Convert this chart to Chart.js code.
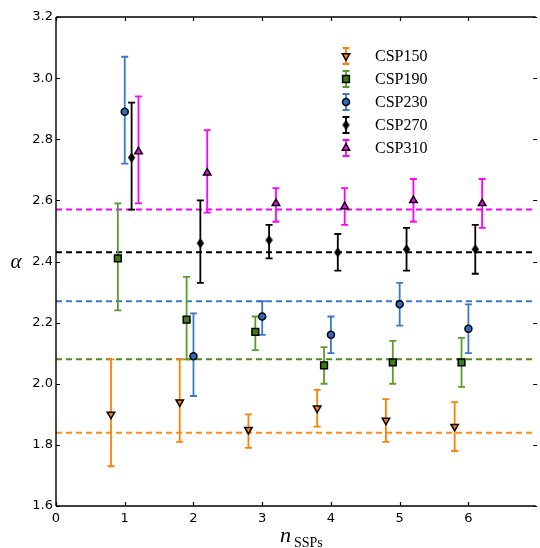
<!DOCTYPE html>
<html>
<head>
<meta charset="utf-8">
<script src="https://cdn.jsdelivr.net/npm/chart.js@4.4.1/dist/chart.umd.min.js"></script>
<style>
  html, body { margin: 0; padding: 0; background: #ffffff; }
  #wrap { width: 540px; height: 548px; position: relative; }
</style>
</head>
<body>
<div id="wrap"><canvas id="c" width="540" height="548"></canvas></div>
<script>
// ---- data ----
const nSSPs = [1, 2, 3, 4, 5, 6];
const seriesNames = ['CSP150', 'CSP190', 'CSP230', 'CSP270', 'CSP310'];

const csp150 = [1.90, 1.94, 1.85, 1.92, 1.88, 1.86];
const csp150Lo = [1.73, 1.81, 1.79, 1.86, 1.81, 1.78];
const csp150Hi = [2.08, 2.08, 1.90, 1.98, 1.95, 1.94];

const csp190 = [2.41, 2.21, 2.17, 2.06, 2.07, 2.07];
const csp190Lo = [2.24, 2.08, 2.11, 2.00, 2.00, 1.99];
const csp190Hi = [2.59, 2.35, 2.22, 2.12, 2.14, 2.15];

const csp230 = [2.89, 2.09, 2.22, 2.16, 2.26, 2.18];
const csp230Lo = [2.72, 1.96, 2.16, 2.10, 2.19, 2.10];
const csp230Hi = [3.07, 2.23, 2.27, 2.22, 2.33, 2.26];

const csp270 = [2.74, 2.46, 2.47, 2.43, 2.44, 2.44];
const csp270Lo = [2.57, 2.33, 2.41, 2.37, 2.37, 2.36];
const csp270Hi = [2.92, 2.60, 2.52, 2.49, 2.51, 2.52];

const csp310 = [2.76, 2.69, 2.59, 2.58, 2.60, 2.59];
const csp310Lo = [2.59, 2.56, 2.53, 2.52, 2.53, 2.51];
const csp310Hi = [2.94, 2.83, 2.64, 2.64, 2.67, 2.67];

// horizontal reference levels (dashed lines)
const meanLevels = [1.84, 2.08, 2.27, 2.43, 2.57];

const xTicks = [0, 1, 2, 3, 4, 5, 6];
const yTicks = [1.6, 1.8, 2.0, 2.2, 2.4, 2.6, 2.8, 3.0, 3.2];

// ---- styling ----
const values = [csp150, csp190, csp230, csp270, csp310];
const lows = [csp150Lo, csp190Lo, csp230Lo, csp270Lo, csp310Lo];
const highs = [csp150Hi, csp190Hi, csp230Hi, csp270Hi, csp310Hi];
const xOffsets = [-0.2, -0.1, 0, 0.1, 0.2];
const barColors = ['#ff8000', '#5b9a2c', '#3a78c8', '#000000', '#ff00ff'];
const lineColors = ['#ff8c1a', '#4f8a22', '#3a78c8', '#000000', '#ff00ff'];
const markerFill = ['#ff8000', '#3d7a1a', '#2f6bbf', '#000000', '#ff00ff'];

// thin diamond marker as a small canvas image
function thinDiamond() {
  const c = document.createElement('canvas');
  c.width = 9; c.height = 11;
  const g = c.getContext('2d');
  g.beginPath();
  g.moveTo(4.5, 0.5); g.lineTo(8.2, 5.5); g.lineTo(4.5, 10.5); g.lineTo(0.8, 5.5);
  g.closePath();
  g.fillStyle = '#000'; g.fill();
  return c;
}
const diamondImg = thinDiamond();
const markerStyle = ['triangle', 'rect', 'circle', diamondImg, 'triangle'];
const markerRot = [180, 0, 0, 0, 0];
const markerRadius = [4.3, 4.8, 3.5, 4, 4.3];
const X_MAX = 6.95;

const datasets = [];
// dashed horizontal lines
meanLevels.forEach((m, i) => {
  datasets.push({
    label: 'mean ' + seriesNames[i],
    data: [{x: 0, y: m}, {x: X_MAX, y: m}],
    showLine: true, borderColor: lineColors[i], borderWidth: 2,
    borderDash: [6, 4], pointRadius: 0, order: 3
  });
});
// error bars
values.forEach((v, i) => {
  const d = [];
  nSSPs.forEach((n, j) => {
    const x = n + xOffsets[i];
    d.push({x: x, y: lows[i][j]}, {x: x, y: highs[i][j]}, {x: x, y: null});
  });
  datasets.push({
    label: 'err ' + seriesNames[i],
    data: d, showLine: true, spanGaps: false,
    borderColor: barColors[i], borderWidth: 1.8,
    pointStyle: 'line', pointRadius: 3.5, pointBorderWidth: 1.8,
    pointBorderColor: barColors[i], pointBackgroundColor: barColors[i],
    pointHoverRadius: 3.5, order: 2
  });
});
// markers
values.forEach((v, i) => {
  datasets.push({
    label: seriesNames[i],
    data: nSSPs.map((n, j) => ({x: n + xOffsets[i], y: v[j]})),
    showLine: false,
    pointStyle: markerStyle[i], rotation: markerRot[i],
    pointRadius: markerRadius[i], pointHoverRadius: markerRadius[i],
    pointBackgroundColor: markerFill[i], pointBorderColor: '#000000',
    pointBorderWidth: 1.5, order: 1
  });
});

const framePlugin = {
  id: 'frame',
  afterDraw(chart) {
    const ctx = chart.ctx;
    const a = chart.chartArea;
    const xs = chart.scales.x, ys = chart.scales.y;
    ctx.save();
    ctx.strokeStyle = '#000';
    ctx.lineWidth = 1.4;
    ctx.beginPath();
    ctx.moveTo(a.left, a.top); ctx.lineTo(a.right + 2, a.top);
    ctx.moveTo(a.left, a.top); ctx.lineTo(a.left, a.bottom);
    ctx.moveTo(a.left, a.bottom); ctx.lineTo(a.right + 2, a.bottom);
    ctx.stroke();
    // inward ticks
    ctx.lineWidth = 1.2;
    const tl = 4;
    ctx.beginPath();
    xTicks.forEach(t => {
      const px = Math.round(xs.getPixelForValue(t)) + 0.5;
      ctx.moveTo(px, a.bottom); ctx.lineTo(px, a.bottom - tl);
      ctx.moveTo(px, a.top); ctx.lineTo(px, a.top + tl);
    });
    const rightSpine = xs.getPixelForValue(7);
    yTicks.forEach(t => {
      const py = Math.round(ys.getPixelForValue(t)) + 0.5;
      ctx.moveTo(a.left, py); ctx.lineTo(a.left + tl, py);
      ctx.moveTo(rightSpine, py); ctx.lineTo(rightSpine - tl, py);
    });
    ctx.stroke();

    // axis titles
    ctx.fillStyle = '#000';
    ctx.textBaseline = 'alphabetic';
    ctx.font = 'italic 21px "Liberation Serif", "DejaVu Serif", serif';
    ctx.textAlign = 'center';
    ctx.fillText('α', 16, 268);
    ctx.textAlign = 'left';
    ctx.font = 'italic 22px "Liberation Serif", "DejaVu Serif", serif';
    ctx.fillText('n', 280, 542);
    ctx.font = '14px "Liberation Serif", "DejaVu Serif", serif';
    ctx.fillText('SSPs', 294, 547);

    // legend
    const lx = 346, ly0 = 56, dy = 23;
    seriesNames.forEach((name, i) => {
      const y = ly0 + dy * i;
      ctx.strokeStyle = barColors[i];
      ctx.lineWidth = 1.8;
      ctx.beginPath();
      ctx.moveTo(lx, y - 8); ctx.lineTo(lx, y + 8);
      ctx.moveTo(lx - 3.5, y - 8); ctx.lineTo(lx + 3.5, y - 8);
      ctx.moveTo(lx - 3.5, y + 8); ctx.lineTo(lx + 3.5, y + 8);
      ctx.stroke();
      ctx.fillStyle = markerFill[i];
      ctx.strokeStyle = '#000';
      ctx.lineWidth = 1.5;
      Chart.helpers.drawPoint(ctx, {
        pointStyle: markerStyle[i], rotation: markerRot[i],
        radius: markerRadius[i], borderWidth: 1.5
      }, lx, y);
      ctx.fillStyle = '#000';
      ctx.font = '16px "Liberation Serif", "DejaVu Serif", serif';
      ctx.textAlign = 'left';
      ctx.textBaseline = 'middle';
      ctx.fillText(name, 375, y + 1);
    });
    ctx.restore();
  }
};

new Chart(document.getElementById('c'), {
  type: 'scatter',
  data: { datasets: datasets },
  options: {
    responsive: false,
    animation: false,
    layout: { padding: { top: 17, left: 0, right: 0, bottom: 0 } },
    plugins: { legend: { display: false }, tooltip: { enabled: false } },
    scales: {
      x: {
        type: 'linear', min: 0, max: X_MAX,
        afterBuildTicks: (s) => { s.ticks = xTicks.map(v => ({value: v})); },
        afterFit: (s) => { s.height = 42; },
        grid: { display: false, drawTicks: false },
        border: { display: false },
        ticks: {
          padding: 5, color: '#000', maxRotation: 0,
          font: { family: '"DejaVu Sans", sans-serif', size: 13 },
          callback: (v) => String(v)
        }
      },
      y: {
        type: 'linear', min: 1.6, max: 3.2,
        afterBuildTicks: (s) => { s.ticks = yTicks.map(v => ({value: v})); },
        afterFit: (s) => { s.width = 56; },
        grid: { display: false, drawTicks: false },
        border: { display: false },
        ticks: {
          padding: 3, color: '#000',
          font: { family: '"DejaVu Sans", sans-serif', size: 13 },
          callback: (v) => Number(v).toFixed(1)
        }
      }
    }
  },
  plugins: [framePlugin]
});
</script>
</body>
</html>
